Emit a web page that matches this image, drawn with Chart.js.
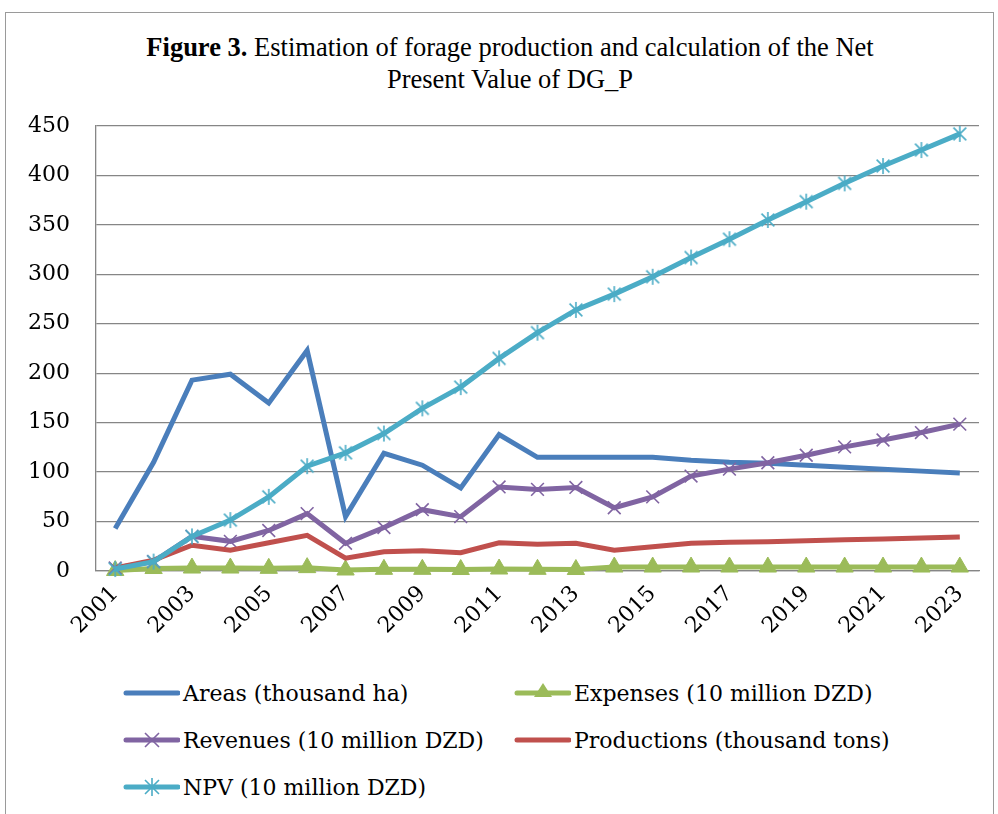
<!DOCTYPE html>
<html>
<head>
<meta charset="utf-8">
<script src="https://cdn.jsdelivr.net/npm/chart.js@4/dist/chart.umd.min.js"></script>
<style>
  body { margin: 0; background: #fff; }
  #wrap { position: relative; width: 998px; height: 814px; overflow: hidden; }
  #frame { position: absolute; left: 5px; top: 12px; width: 989px; height: 820px; border: 1px solid #9a9a9a; box-sizing: border-box; }
  #title { position: absolute; left: 22px; width: 976px; top: 31px; text-align: center; font-family: "Liberation Serif", serif; font-size: 26.5px; line-height: 32px; color: #000; }
  #chartBox { position: absolute; left: 0; top: 0; width: 998px; height: 660px; }
  .leg { position: absolute; font-family: "DejaVu Serif", serif; font-size: 22px; color: #000; display: flex; align-items: center; height: 30px; white-space: nowrap; }
  .leg svg { margin-right: 3px; }
</style>
</head>
<body>
<div id="wrap">
  <div id="frame"></div>
  <div id="title"><b>Figure 3.</b> Estimation of forage production and calculation of the Net<br>Present Value of DG_P</div>
  <div id="chartBox"><canvas id="chart"></canvas></div>
  <div id="legend"></div>
</div>
<script>
const years = ['2001','2002','2003','2004','2005','2006','2007','2008','2009','2010','2011','2012',
               '2013','2014','2015','2016','2017','2018','2019','2020','2021','2022','2023'];
const areas = [43, 110, 193, 199, 170, 223, 55, 119, 107, 84, 138, 115,
               115, 115, 115, 112, 110, 109, 107, 105, 103, 101, 99];
const expenses = [0.5, 2.5, 3, 3, 2.7, 3.4, 1, 1.7, 1.7, 1.5, 2, 1.7,
                  1.5, 4, 4, 4, 4, 4, 4, 4, 4, 4, 4];
const revenues = [3, 9.5, 35, 30, 41, 58, 28, 44, 62, 55, 85, 82.5,
                  84.5, 64, 75, 96, 103, 109.5, 117, 125.5, 132.5, 140, 148.5];
const productions = [3, 11, 26, 21, 28.5, 36, 13, 19.5, 20.5, 18.5, 28.5, 27,
                     28, 21, 24.5, 28, 29, 29.7, 30.6, 31.5, 32.4, 33.4, 34.4];
const npv = [2, 9.5, 35, 51.5, 75, 106, 119.5, 139, 164.5, 186, 215, 241,
             264, 280, 297.5, 317, 335.5, 355, 373.5, 392, 409.5, 425.7, 442];
const yTicks = [0, 50, 100, 150, 200, 250, 300, 350, 400, 450];

const BLUE = '#4a7ebb', GREEN = '#9bbb59', PURPLE = '#8064a2', RED = '#c0504d', CYAN = '#4bacc6';

// Excel-style asterisk marker: X plus a vertical stroke
function makeStar(color, size) {
    const c = document.createElement('canvas');
    c.width = size; c.height = size;
    const g = c.getContext('2d');
    const r = size / 2 - 1;
    g.strokeStyle = color;
    g.lineWidth = 1.6;
    g.beginPath();
    g.moveTo(size/2 - r*0.8, size/2 - r*0.8); g.lineTo(size/2 + r*0.8, size/2 + r*0.8);
    g.moveTo(size/2 + r*0.8, size/2 - r*0.8); g.lineTo(size/2 - r*0.8, size/2 + r*0.8);
    g.moveTo(size/2, 1); g.lineTo(size/2, size - 1);
    g.stroke();
    return c;
}
const starImg = makeStar(CYAN, 18);

const ctx = document.getElementById('chart').getContext('2d');
const chart = new Chart(ctx, {
    type: 'line',
    data: {
        labels: years,
        datasets: [{
            label: 'Areas (thousand ha)',
            data: areas,
            borderColor: BLUE,
            borderWidth: 5,
            pointRadius: 0,
            order: 5
        }, {
            label: 'Expenses (10 million DZD)',
            data: expenses,
            borderColor: GREEN,
            backgroundColor: GREEN,
            borderWidth: 5,
            pointStyle: 'triangle',
            pointRadius: 10,
            pointBorderWidth: 1,
            order: 4
        }, {
            label: 'Revenues (10 million DZD)',
            data: revenues,
            borderColor: PURPLE,
            backgroundColor: PURPLE,
            borderWidth: 5,
            pointStyle: 'crossRot',
            pointRadius: 9,
            pointBorderWidth: 1.6,
            order: 3
        }, {
            label: 'Productions (thousand tons)',
            data: productions,
            borderColor: RED,
            borderWidth: 5,
            pointRadius: 0,
            order: 2
        }, {
            label: 'NPV (10 million DZD)',
            data: npv,
            borderColor: CYAN,
            backgroundColor: CYAN,
            borderWidth: 5,
            pointStyle: starImg,
            pointRadius: 9,
            order: 1
        }]
    },
    options: {
        responsive: true,
        maintainAspectRatio: false,
        animation: false,
        clip: false,
        layout: { padding: { top: 126, right: 19, left: 0, bottom: 0 } },
        plugins: {
            legend: { display: false },
            title: { display: false },
            tooltip: { enabled: false }
        },
        scales: {
            x: {
                offset: true,
                grid: { display: false, drawTicks: false },
                border: { display: true, color: '#868686', width: 1.3 },
                afterFit: s => { s.height = 89; },
                ticks: {
                    autoSkip: false,
                    maxRotation: 45,
                    minRotation: 45,
                    padding: 10,
                    color: '#000',
                    font: { family: 'DejaVu Serif', size: 22 },
                    callback: function (val, i) { return i % 2 === 0 ? this.getLabelForValue(val) : ''; }
                }
            },
            y: {
                min: 0,
                max: 450,
                afterFit: s => { s.width = 96; },
                afterBuildTicks: s => { s.ticks = yTicks.map(v => ({ value: v })); },
                grid: { color: '#868686', lineWidth: 1.3, drawTicks: false },
                border: { display: true, color: '#868686', width: 1.3 },
                ticks: {
                    padding: 26,
                    color: '#000',
                    font: { family: 'DejaVu Serif', size: 22 }
                }
            }
        }
    }
});

// legend laid out as in the original: two columns, three rows
const legendSpots = [
    { i: 0, x: 122, y: 678 },
    { i: 1, x: 513, y: 678 },
    { i: 2, x: 122, y: 725 },
    { i: 3, x: 513, y: 725 },
    { i: 4, x: 122, y: 772 }
];
const legendMarks = ['', 'tri', 'x', '', 'star'];
const legendBox = document.getElementById('legend');
legendSpots.forEach(p => {
    const ds = chart.data.datasets[p.i];
    const c = ds.borderColor;
    let mark = '';
    if (legendMarks[p.i] === 'tri') mark = `<polygon points="30,5 39,19 21,19" fill="${c}"/>`;
    if (legendMarks[p.i] === 'x') mark = `<path d="M23,8 L37,22 M37,8 L23,22" stroke="${c}" stroke-width="1.6"/>`;
    if (legendMarks[p.i] === 'star') mark = `<path d="M23,8 L37,22 M37,8 L23,22 M30,6 L30,24" stroke="${c}" stroke-width="1.6"/>`;
    const el = document.createElement('div');
    el.className = 'leg';
    el.style.left = p.x + 'px';
    el.style.top = p.y + 'px';
    el.innerHTML = `<svg width="58" height="30"><line x1="4" y1="15" x2="56" y2="15" stroke="${c}" stroke-width="5" stroke-linecap="round"/>${mark}</svg>${ds.label}`;
    legendBox.appendChild(el);
});
</script>
</body>
</html>
